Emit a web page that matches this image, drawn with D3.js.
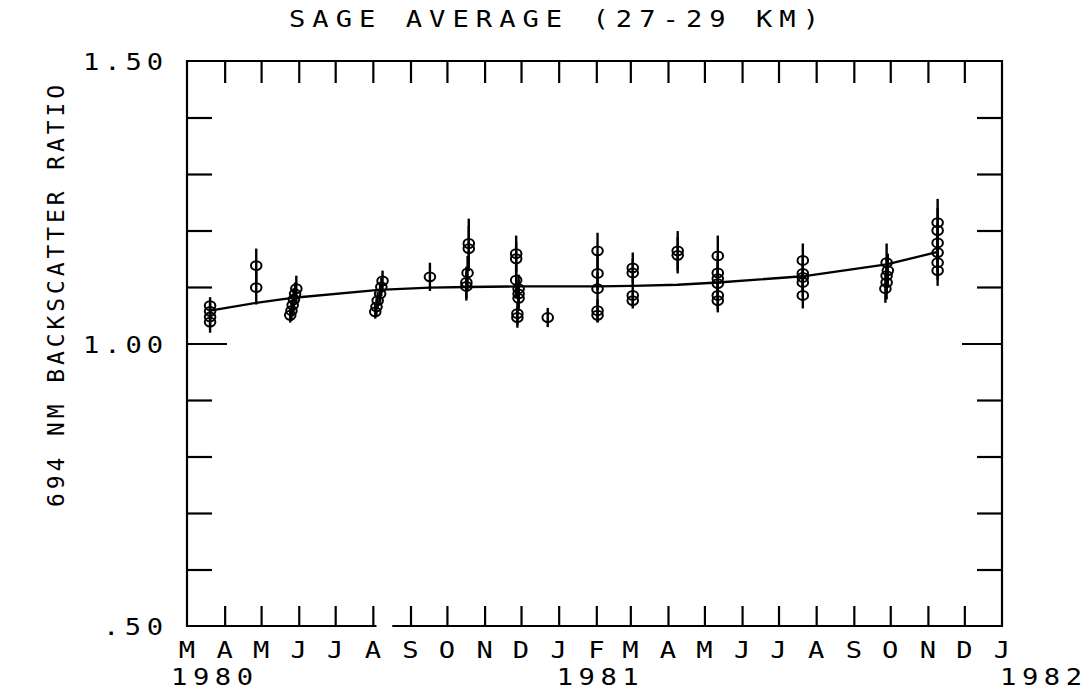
<!DOCTYPE html>
<html>
<head>
<meta charset="utf-8">
<script src="https://cdn.jsdelivr.net/npm/d3@7"></script>
<style>
  body { margin: 0; background: #fff; }
  text { font-family: "DejaVu Sans Mono", monospace; fill: #000; }
</style>
</head>
<body>
<script>
// SAGE measurements, one entry per occultation
var obsDate = ["1980-03-20","1980-03-20","1980-03-20","1980-03-20",
  "1980-04-27","1980-04-27",
  "1980-05-30","1980-05-29","1980-05-28","1980-05-27","1980-05-26","1980-05-25",
  "1980-08-09","1980-08-08","1980-08-07","1980-08-05","1980-08-04","1980-08-03",
  "1980-09-17",
  "1980-10-19","1980-10-19","1980-10-18","1980-10-17","1980-10-17",
  "1980-11-27","1980-11-27","1980-11-27","1980-11-29","1980-11-29","1980-11-29","1980-11-28","1980-11-28",
  "1980-12-23",
  "1981-02-02","1981-02-02","1981-02-02","1981-02-02","1981-02-02",
  "1981-03-03","1981-03-03","1981-03-03","1981-03-03",
  "1981-04-09","1981-04-09",
  "1981-05-12","1981-05-12","1981-05-12","1981-05-12","1981-05-12","1981-05-12",
  "1981-07-21","1981-07-21","1981-07-21","1981-07-21","1981-07-21",
  "1981-09-28","1981-09-29","1981-09-28","1981-09-28","1981-09-27",
  "1981-11-09","1981-11-09","1981-11-09","1981-11-09","1981-11-09","1981-11-09"];
var obsValue = [1.067,1.057,1.047,1.038,
  1.138,1.099,
  1.097,1.088,1.078,1.068,1.058,1.050,
  1.111,1.100,1.088,1.076,1.065,1.056,
  1.118,
  1.177,1.168,1.125,1.108,1.101,
  1.159,1.150,1.112,1.097,1.088,1.080,1.053,1.046,
  1.046,
  1.164,1.124,1.097,1.058,1.050,
  1.134,1.125,1.085,1.076,
  1.164,1.156,
  1.155,1.125,1.115,1.106,1.085,1.076,
  1.147,1.124,1.117,1.108,1.085,
  1.143,1.129,1.120,1.108,1.097,
  1.214,1.200,1.178,1.161,1.143,1.129];
var obsError = [0.015,0.015,0.017,0.019,
  0.030,0.030,
  0.023,0.020,0.020,0.020,0.018,0.013,
  0.018,0.016,0.016,0.015,0.015,0.012,
  0.025,
  0.044,0.040,0.030,0.028,0.025,
  0.032,0.030,0.030,0.025,0.025,0.022,0.020,0.018,
  0.017,
  0.032,0.030,0.030,0.020,0.013,
  0.027,0.025,0.020,0.014,
  0.035,0.032,
  0.036,0.030,0.030,0.028,0.025,0.021,
  0.030,0.030,0.025,0.025,0.023,
  0.034,0.030,0.030,0.030,0.025,
  0.042,0.040,0.035,0.035,0.030,0.027];

// smooth fit through the averages
var fitDate = ["1980-03-20","1980-04-27","1980-05-28","1980-08-06","1980-09-17","1980-10-18",
  "1980-11-27","1980-12-23","1981-02-02","1981-03-03","1981-04-09","1981-05-12",
  "1981-07-21","1981-09-28","1981-11-09"];
var fitValue = [1.058,1.072,1.081,1.095,1.099,1.100,1.101,1.101,1.101,1.102,1.104,1.108,
  1.119,1.140,1.162];

var monthLabels = ["M","A","M","J","J","A","S","O","N","D","J","F","M","A","M","J","J","A","S","O","N","D","J"];
var yearLabels = ["1980","1981","1982"];
var yearDates = ["1980-03-01","1981-01-01","1982-01-01"];
var yTickLabels = [".50","1.00","1.50"];
var yTickValues = [0.5, 1.0, 1.5];

var parse = d3.timeParse("%Y-%m-%d");

var svg = d3.select("body").append("svg")
    .attr("width", 1082)
    .attr("height", 695);

var pLeft = 187, pRight = 1002, pTop = 61, pBottom = 626;

var x = d3.scaleTime()
    .domain([new Date(1980, 2, 1), new Date(1982, 0, 1)])
    .range([pLeft, pRight]);
var y = d3.scaleLinear()
    .domain([0.5, 1.5])
    .range([pBottom, pTop]);

var months = d3.timeMonth.range(new Date(1980, 2, 1), new Date(1982, 0, 2));
var innerMonths = months.slice(1, -1);

// frame (the scanned original has a small break in the bottom line)
var frame = svg.append("g")
    .attr("fill", "none")
    .attr("stroke", "#000")
    .attr("stroke-width", 2.2);
frame.append("path")
    .attr("d", "M" + x(parse("1980-08-04")) + "," + pBottom + "H" + pLeft + "V" + pTop + "H" + pRight + "V" + pBottom + "H" + x(parse("1980-08-17")));

// month ticks, top and bottom, pointing inwards
var xBottom = d3.axisBottom(x)
    .tickValues(innerMonths)
    .tickSizeInner(-20)
    .tickSizeOuter(0)
    .tickFormat("");
var xTop = d3.axisTop(x)
    .tickValues(innerMonths)
    .tickSizeInner(-22)
    .tickSizeOuter(0)
    .tickFormat("");
svg.append("g").attr("transform", "translate(0," + pBottom + ")").call(xBottom);
svg.append("g").attr("transform", "translate(0," + pTop + ")").call(xTop);

// y ticks, left and right
var minorY = [0.6, 0.7, 0.8, 0.9, 1.1, 1.2, 1.3, 1.4];
svg.append("g").attr("transform", "translate(" + pLeft + ",0)")
    .call(d3.axisRight(y).tickValues(minorY).tickSizeInner(25).tickSizeOuter(0).tickFormat(""));
svg.append("g").attr("transform", "translate(" + pLeft + ",0)")
    .call(d3.axisRight(y).tickValues([1.0]).tickSizeInner(40).tickSizeOuter(0).tickFormat(""));
svg.append("g").attr("transform", "translate(" + pRight + ",0)")
    .call(d3.axisLeft(y).tickValues(minorY).tickSizeInner(25).tickSizeOuter(0).tickFormat(""));
svg.append("g").attr("transform", "translate(" + pRight + ",0)")
    .call(d3.axisLeft(y).tickValues([1.0]).tickSizeInner(40).tickSizeOuter(0).tickFormat(""));

svg.selectAll(".domain").remove();
svg.selectAll(".tick line").attr("stroke", "#000").attr("stroke-width", 2.2);

// labels (plotter lettering is a bit wider than the font, so stretch it)
var fs = 23, stretch = 1.18;
function label(px, py, str, anchor, len) {
  var t = svg.append("text")
      .attr("transform", "translate(" + px + "," + py + ") scale(" + stretch + ",1)")
      .attr("font-size", fs)
      .attr("text-anchor", anchor)
      .text(str);
  if (len) t.attr("textLength", len / stretch).attr("lengthAdjust", "spacing");
  return t;
}

label(289, 27, "SAGE AVERAGE   (27-29 KM)", "start", 530);

yTickLabels.forEach(function(d, i) {
  label(163, y(yTickValues[i]) + 9, d, "end", d.length * 20);
});

monthLabels.forEach(function(d, i) {
  label(x(months[i]), 658, d, "middle");
});

yearLabels.forEach(function(d, i) {
  label(i == 0 ? 171 : x(parse(yearDates[i])) - 2, 685, d, "start", 82);
});

svg.append("text")
    .attr("transform", "translate(64,296) rotate(-90)")
    .attr("font-size", fs)
    .attr("text-anchor", "middle")
    .attr("textLength", 422)
    .attr("lengthAdjust", "spacing")
    .text("694 NM BACKSCATTER RATIO");

// fit curve
var line = d3.line()
    .x(function(d, i) { return x(parse(fitDate[i])); })
    .y(function(d) { return y(d); });
svg.append("path")
    .datum(fitValue)
    .attr("d", line)
    .attr("fill", "none")
    .attr("stroke", "#000")
    .attr("stroke-width", 2.3);

// error bars and symbols
var pts = svg.append("g");
pts.selectAll(".err")
    .data(obsValue)
    .enter().append("line")
    .attr("class", "err")
    .attr("x1", function(d, i) { return x(parse(obsDate[i])); })
    .attr("x2", function(d, i) { return x(parse(obsDate[i])); })
    .attr("y1", function(d, i) { return y(d + obsError[i]); })
    .attr("y2", function(d, i) { return y(d - obsError[i]); })
    .attr("stroke", "#000")
    .attr("stroke-width", 2.4);
pts.selectAll(".sym")
    .data(obsValue)
    .enter().append("ellipse")
    .attr("class", "sym")
    .attr("cx", function(d, i) { return x(parse(obsDate[i])); })
    .attr("cy", function(d) { return y(d); })
    .attr("rx", 5.3)
    .attr("ry", 4.4)
    .attr("fill", "none")
    .attr("stroke", "#000")
    .attr("stroke-width", 2);
</script>
</body>
</html>
